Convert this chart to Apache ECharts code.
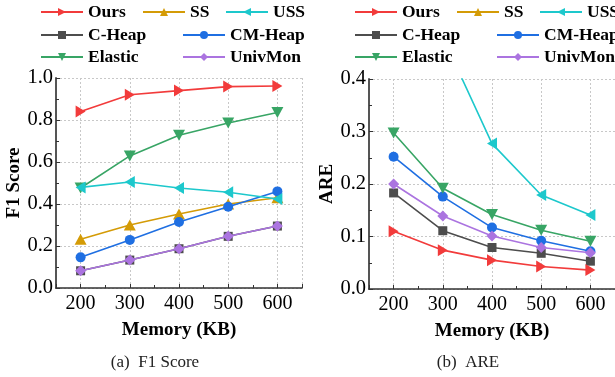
<!DOCTYPE html>
<html>
<head>
<meta charset="utf-8">
<script src="https://cdn.jsdelivr.net/npm/echarts@6/dist/echarts.min.js"></script>
<style>
  html, body { margin: 0; padding: 0; background: #fff; }
  #chart { width: 615px; height: 377px; }
</style>
</head>
<body>
<div id="chart"></div>
<script>
// Memory budgets (KB) on the x axis
const memory = [200, 300, 400, 500, 600];

const seriesNames = ['Ours', 'SS', 'USS', 'C-Heap', 'CM-Heap', 'Elastic', 'UnivMon'];

// F1 score per algorithm
const f1Ours    = [0.84, 0.92, 0.94, 0.959, 0.962];
const f1SS      = [0.232, 0.30, 0.352, 0.40, 0.43];
const f1USS     = [0.479, 0.505, 0.476, 0.456, 0.424];
const f1CHeap   = [0.082, 0.133, 0.187, 0.246, 0.295];
const f1CMHeap  = [0.146, 0.229, 0.314, 0.387, 0.46];
const f1Elastic = [0.476, 0.629, 0.727, 0.786, 0.836];
const f1UnivMon = [0.082, 0.133, 0.187, 0.246, 0.295];

// Average relative error per algorithm (SS and part of USS run above the 0.4 ceiling)
const areOurs    = [0.110, 0.074, 0.055, 0.043, 0.036];
const areSS      = [1.9, 1.5, 1.2, 1.0, 0.85];
const areUSS     = [0.75, 0.48, 0.277, 0.179, 0.141];
const areCHeap   = [0.183, 0.111, 0.079, 0.068, 0.053];
const areCMHeap  = [0.252, 0.176, 0.117, 0.092, 0.072];
const areElastic = [0.297, 0.192, 0.142, 0.112, 0.091];
const areUnivMon = [0.200, 0.139, 0.101, 0.079, 0.069];

const f1Ticks = [0, 0.2, 0.4, 0.6, 0.8, 1.0];
const areTicks = [0, 0.1, 0.2, 0.3, 0.4];

const f1Data  = [f1Ours, f1SS, f1USS, f1CHeap, f1CMHeap, f1Elastic, f1UnivMon];
const areData = [areOurs, areSS, areUSS, areCHeap, areCMHeap, areElastic, areUnivMon];

const colors = ['#f23b3b', '#d49b06', '#1dc8cc', '#4d4d4d', '#1f6fe2', '#38a565', '#ab74e0'];
const symbols = [
  'path://M0,0 L10,5 L0,10 Z',          // right-pointing triangle
  'path://M5,0 L10,9 L0,9 Z',           // up triangle
  'path://M10,0 L0,5 L10,10 Z',         // left-pointing triangle
  'rect',
  'circle',
  'path://M0,0 L10,0 L5,9 Z',           // down triangle
  'path://M5,0 L10,5 L5,10 L0,5 Z'      // diamond
];
const symbolSizes = [[10, 12], [12, 11], [10, 12], 9, 10, [12, 11], [11, 11]];
// drawing order: cyan USS sits over the green Elastic line
const zOrder = [8, 3, 7, 4, 5, 6, 9];

const SERIF = '"Liberation Serif", "DejaVu Serif", serif';

function pairs(values) {
  return memory.map((m, i) => [m, values[i]]);
}

function buildSeries(data, gridIdx) {
  return seriesNames.map((name, i) => ({
    name: name,
    type: 'line',
    xAxisIndex: gridIdx,
    yAxisIndex: gridIdx,
    data: pairs(data[i]),
    symbol: symbols[i],
    symbolSize: symbolSizes[i],
    clip: true,
    lineStyle: { color: colors[i], width: 1.6 },
    itemStyle: { color: colors[i] },
    z: zOrder[i]
  }));
}

// Legend layout: three columns on the first row, two on the next rows
const legendSlots = [
  { name: 'Ours',    x: 40,  y: 3 },
  { name: 'SS',      x: 142, y: 3 },
  { name: 'USS',     x: 225, y: 3 },
  { name: 'C-Heap',  x: 40,  y: 26 },
  { name: 'CM-Heap', x: 182, y: 26 },
  { name: 'Elastic', x: 40,  y: 48 },
  { name: 'UnivMon', x: 182, y: 48 }
];

function buildLegends(offsetX) {
  return legendSlots.map(s => ({
    data: [s.name],
    left: s.x + offsetX,
    top: s.y,
    orient: 'horizontal',
    padding: 0,
    itemWidth: 42,
    itemHeight: 10,
    selectedMode: false,
    textStyle: { fontFamily: SERIF, fontWeight: 'bold', fontSize: 17.5, color: '#000' }
  }));
}

function xAxisFor(gridIdx) {
  return {
    type: 'value',
    gridIndex: gridIdx,
    min: 150,
    max: 650,
    splitNumber: 5,
    name: 'Memory (KB)',
    nameLocation: 'middle',
    nameGap: 33,
    nameTextStyle: { fontFamily: SERIF, fontWeight: 'bold', fontSize: 19, color: '#000' },
    axisLine: { show: true, onZero: false, lineStyle: { color: '#333', width: 1.6 } },
    axisTick: { show: true, inside: true, length: 4, lineStyle: { color: '#333', width: 1 } },
    minorTick: { show: true, splitNumber: 2, length: 3, lineStyle: { color: '#333', width: 1 } },
    axisLabel: {
      margin: 6,
      fontFamily: SERIF, fontSize: 20, color: '#000',
      showMinLabel: false, showMaxLabel: false,
      formatter: v => (memory.indexOf(v) >= 0 ? String(v) : '')
    },
    splitLine: { show: true, lineStyle: { color: '#c8c8c8', type: [2, 2], width: 1 } }
  };
}

function yAxisFor(gridIdx, name, ticks, nameGap) {
  return {
    type: 'value',
    gridIndex: gridIdx,
    min: ticks[0],
    max: ticks[ticks.length - 1],
    interval: ticks[1] - ticks[0],
    name: name,
    nameLocation: 'middle',
    nameRotate: 90,
    nameGap: nameGap,
    nameTextStyle: { fontFamily: SERIF, fontWeight: 'bold', fontSize: 19, color: '#000' },
    axisLine: { show: true, onZero: false, lineStyle: { color: '#555', width: 2 } },
    axisTick: { show: true, inside: true, length: 4, lineStyle: { color: '#333', width: 1 } },
    minorTick: { show: true, splitNumber: 2, length: 3, lineStyle: { color: '#333', width: 1 } },
    axisLabel: {
      margin: 3,
      fontFamily: SERIF, fontSize: 20.5, color: '#000',
      formatter: v => v.toFixed(1)
    },
    splitLine: { show: true, lineStyle: { color: '#c8c8c8', type: [2, 2], width: 1 } }
  };
}

const chart = echarts.init(document.getElementById('chart'), null, { renderer: 'canvas' });

chart.setOption({
  backgroundColor: '#fff',
  animation: false,
  legend: buildLegends(0).concat(buildLegends(314)),
  grid: [
    { left: 56, top: 78, width: 246, height: 210, containLabel: false },
    { left: 369, top: 79, width: 246, height: 210, containLabel: false }
  ],
  xAxis: [xAxisFor(0), xAxisFor(1)],
  yAxis: [yAxisFor(0, 'F1 Score', f1Ticks, 32), yAxisFor(1, 'ARE', areTicks, 32)],
  series: buildSeries(f1Data, 0).concat(buildSeries(areData, 1)),
  graphic: [
    {
      type: 'text', x: 155, y: 354,
      style: { text: '(a)  F1 Score', fontFamily: SERIF, fontSize: 17, fill: '#222', align: 'center' }
    },
    {
      type: 'text', x: 468, y: 354,
      style: { text: '(b)  ARE', fontFamily: SERIF, fontSize: 17, fill: '#222', align: 'center' }
    }
  ]
});
</script>
</body>
</html>
